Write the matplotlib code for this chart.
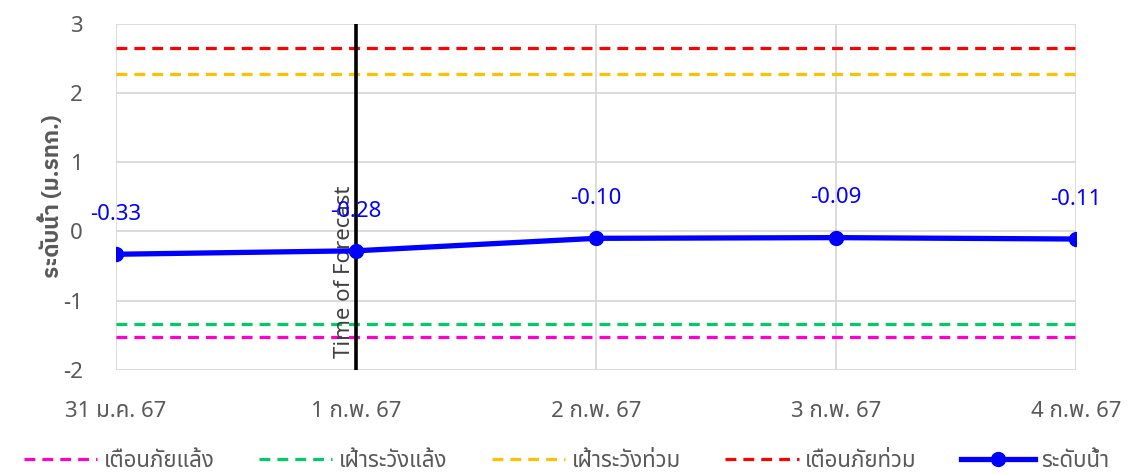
import matplotlib
matplotlib.use("Agg")
import matplotlib.pyplot as plt

plt.rcParams["font.family"] = ["Noto Sans Thai", "Noto Sans", "DejaVu Sans"]

dates = ["31 ม.ค. 67", "1 ก.พ. 67", "2 ก.พ. 67", "3 ก.พ. 67", "4 ก.พ. 67"]
level = [-0.33, -0.28, -0.10, -0.09, -0.11]

# threshold levels (m MSL)
drought_warn = -1.53
drought_watch = -1.33
flood_watch = 2.27
flood_warn = 2.65
forecast_idx = 1

GRAY = "#595959"
FS = 16

fig = plt.figure(figsize=(11.33, 4.75), dpi=100)
ax = fig.add_axes([0.1024, 0.2211, 0.8473, 0.7294])

x = list(range(len(dates)))
dash = (0, (3.4, 2.2))
ax.plot(x, [drought_warn] * len(x), color="#FF00CC", lw=2.3, ls=dash, label="เตือนภัยแล้ง")
ax.plot(x, [drought_watch] * len(x), color="#00CC66", lw=2.3, ls=dash, label="เฝ้าระวังแล้ง")
ax.plot(x, [flood_watch] * len(x), color="#FFC000", lw=2.3, ls=dash, label="เฝ้าระวังท่วม")
ax.plot(x, [flood_warn] * len(x), color="#FF0000", lw=2.3, ls=dash, label="เตือนภัยท่วม")
ax.plot(x, level, color="#0000FF", lw=3.8, marker="o", ms=10, label="ระดับน้ำ", zorder=5)

for xi, v in zip(x, level):
    ax.annotate(f"{v:.2f}", (xi, v), xytext=(0, 21), textcoords="offset points",
                ha="center", va="bottom", color="#0000FF", fontsize=FS, zorder=6)

ax.axvline(forecast_idx, color="black", lw=2.6, zorder=4)
ax.text(forecast_idx - 0.004, -1.83, "Time of Forecast", rotation=90, ha="right", va="bottom",
        color="#404040", fontsize=FS)

ax.set_xlim(0, len(dates) - 1)
ax.set_ylim(-2, 3)
ax.set_xticks(x)
ax.set_xticklabels(dates)
ax.set_yticks(range(-2, 4))
ax.grid(True, color="#D9D9D9", lw=1.3)
ax.set_axisbelow(True)
for s in ax.spines.values():
    s.set_visible(False)
ax.tick_params(axis="both", length=0, colors=GRAY, labelsize=FS)
ax.tick_params(axis="y", pad=24)
ax.tick_params(axis="x", pad=22)
ax.set_ylabel("ระดับน้ำ (ม.รทก.)", color=GRAY, fontsize=FS,
              family=["IBM Plex Sans Thai", "Noto Sans"], fontweight="bold", labelpad=0)

leg = fig.legend(loc="center", bbox_to_anchor=(0.5, 0.028), ncol=5, frameon=False,
                 fontsize=FS, handlelength=3.3, columnspacing=2.0, handletextpad=0.3)
for t in leg.get_texts():
    t.set_color(GRAY)

fig.savefig("out.png", dpi=100)
